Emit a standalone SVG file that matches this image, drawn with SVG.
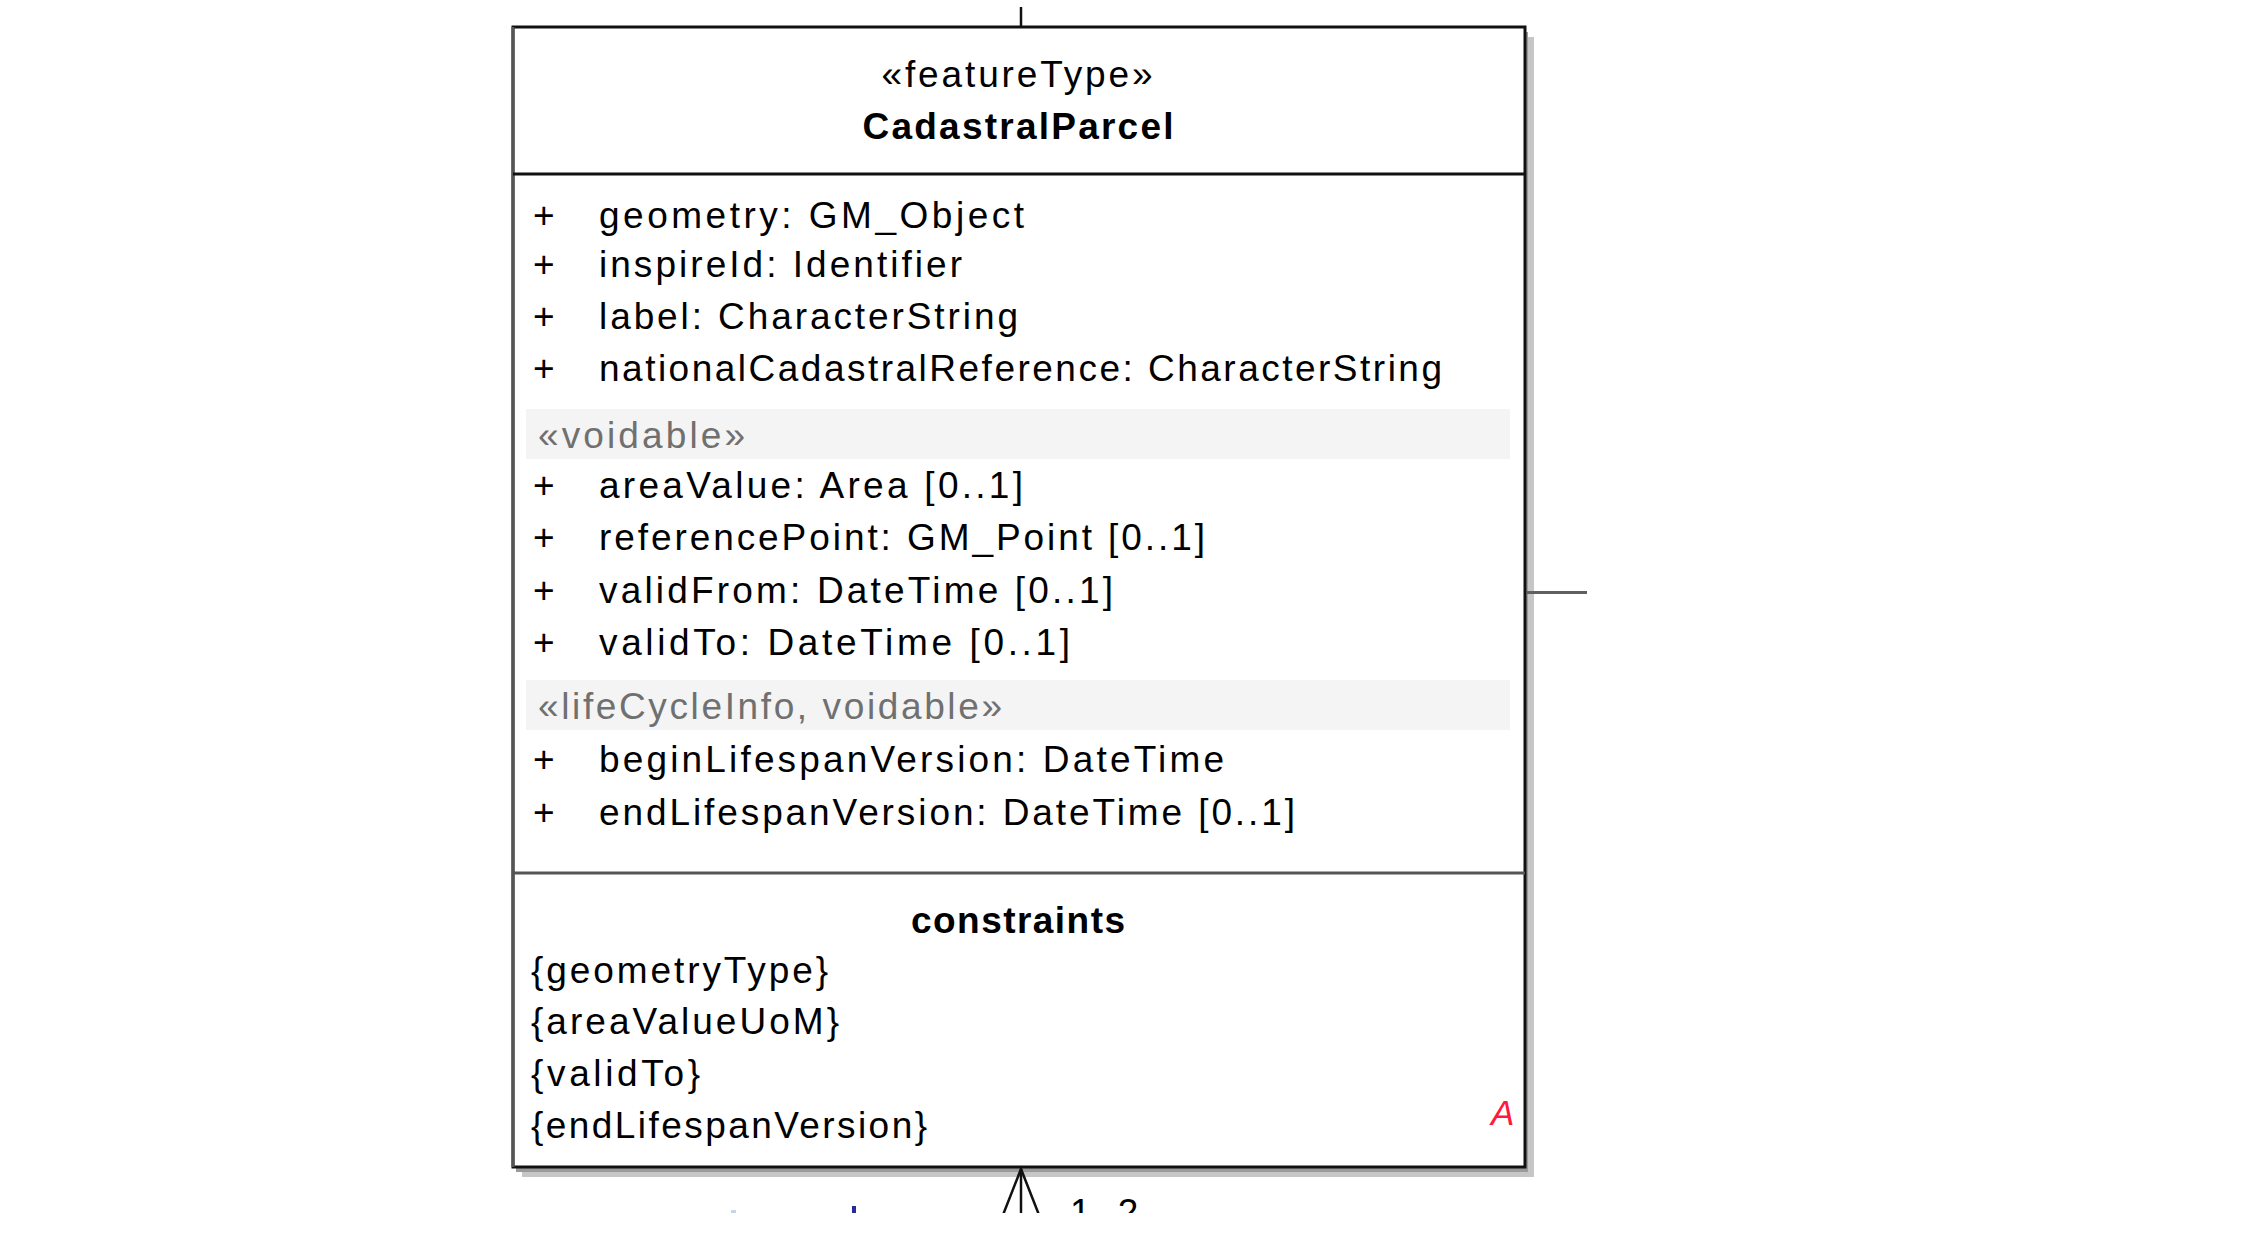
<svg xmlns="http://www.w3.org/2000/svg" width="2249" height="1254" viewBox="0 0 2249 1254" xml:space="preserve">
  <style>
    text { font-family: "Liberation Sans", Arial, sans-serif; font-size: 37px; fill: #000; }
    .ls { letter-spacing: 2.2px; }
    .bold { font-weight: bold; }
    .center { text-anchor: middle; }
    .stereo { fill: #707070; }
    .band { fill: #f4f4f4; }
    .edge { fill: none; stroke: #111; stroke-width: 3; }
    .conn { fill: none; stroke: #111; stroke-width: 2.5; }
    .flag { fill: #ff1a3c; font-style: italic; font-size: 35px; }
  </style>
  <defs>
    <clipPath id="crop">
      <rect x="0" y="0" width="2249" height="1213"/>
    </clipPath>
  </defs>
  <rect x="0" y="0" width="2249" height="1254" fill="#fff"/>

  <g id="CadastralParcel">
    <rect x="522" y="37" width="1012" height="1140" fill="#c6c6c6"/>
    <rect x="516" y="32" width="1012" height="1140" fill="#9a9a9a"/>
    <rect x="513" y="27" width="1012" height="1140" fill="#fff"/>
    <rect class="edge" x="513" y="27" width="1012" height="1140"/>
    <line x1="513" y1="27" x2="513" y2="1167" stroke="#555" stroke-width="3"/>
    <line class="edge" x1="513" y1="174" x2="1525" y2="174"/>
    <line x1="513" y1="873" x2="1525" y2="873" stroke="#555" stroke-width="3"/>

    <text class="center" x="1017" y="87" textLength="271" lengthAdjust="spacing">«featureType»</text>
    <text class="center bold" x="1018" y="139" textLength="311" lengthAdjust="spacing">CadastralParcel</text>

    <text class="ls" x="533" y="228">+</text><text x="599" y="228" textLength="425" lengthAdjust="spacing">geometry:  GM_Object</text>
    <text class="ls" x="533" y="277">+</text><text x="599" y="277" textLength="363" lengthAdjust="spacing">inspireId:  Identifier</text>
    <text class="ls" x="533" y="329">+</text><text x="599" y="329" textLength="419" lengthAdjust="spacing">label:  CharacterString</text>
    <text class="ls" x="533" y="381">+</text><text x="599" y="381" textLength="843" lengthAdjust="spacing">nationalCadastralReference:  CharacterString</text>

    <rect class="band" x="526" y="409" width="984" height="50"/>
    <text class="stereo" x="538" y="448" textLength="207" lengthAdjust="spacing">«voidable»</text>
    <text class="ls" x="533" y="498">+</text><text x="599" y="498" textLength="424" lengthAdjust="spacing">areaValue:  Area [0..1]</text>
    <text class="ls" x="533" y="550">+</text><text x="599" y="550" textLength="606" lengthAdjust="spacing">referencePoint:  GM_Point [0..1]</text>
    <text class="ls" x="533" y="603">+</text><text x="599" y="603" textLength="514" lengthAdjust="spacing">validFrom:  DateTime [0..1]</text>
    <text class="ls" x="533" y="655">+</text><text x="599" y="655" textLength="471" lengthAdjust="spacing">validTo:  DateTime [0..1]</text>

    <rect class="band" x="526" y="680" width="984" height="50"/>
    <text class="stereo" x="538" y="719" textLength="464" lengthAdjust="spacing">«lifeCycleInfo, voidable»</text>
    <text class="ls" x="533" y="772">+</text><text x="599" y="772" textLength="625" lengthAdjust="spacing">beginLifespanVersion:  DateTime</text>
    <text class="ls" x="533" y="825">+</text><text x="599" y="825" textLength="696" lengthAdjust="spacing">endLifespanVersion:  DateTime [0..1]</text>

    <text class="center bold" x="1018" y="933" textLength="214" lengthAdjust="spacing">constraints</text>
    <text x="531" y="983" textLength="297" lengthAdjust="spacing">{geometryType}</text>
    <text x="531" y="1034" textLength="308" lengthAdjust="spacing">{areaValueUoM}</text>
    <text x="531" y="1086" textLength="169" lengthAdjust="spacing">{validTo}</text>
    <text x="531" y="1138" textLength="396" lengthAdjust="spacing">{endLifespanVersion}</text>
    <text class="flag" x="1491" y="1125">A</text>
  </g>

  <g id="connectors" clip-path="url(#crop)">
    <line class="conn" x1="1021" y1="7" x2="1021" y2="27"/>
    <line x1="1527" y1="592.5" x2="1587" y2="592.5" stroke="#606060" stroke-width="3"/>
    <line class="conn" x1="1021" y1="1169" x2="1021" y2="1220"/>
    <polyline class="conn" points="1001,1220 1021,1169 1041,1220"/>
    <text class="ls" x="1070" y="1225">1..2</text>
    <rect x="731" y="1210" width="5" height="3" fill="#c8d4ec"/>
    <rect x="852" y="1206" width="4" height="7" fill="#2a2a9a"/>
  </g>
</svg>
